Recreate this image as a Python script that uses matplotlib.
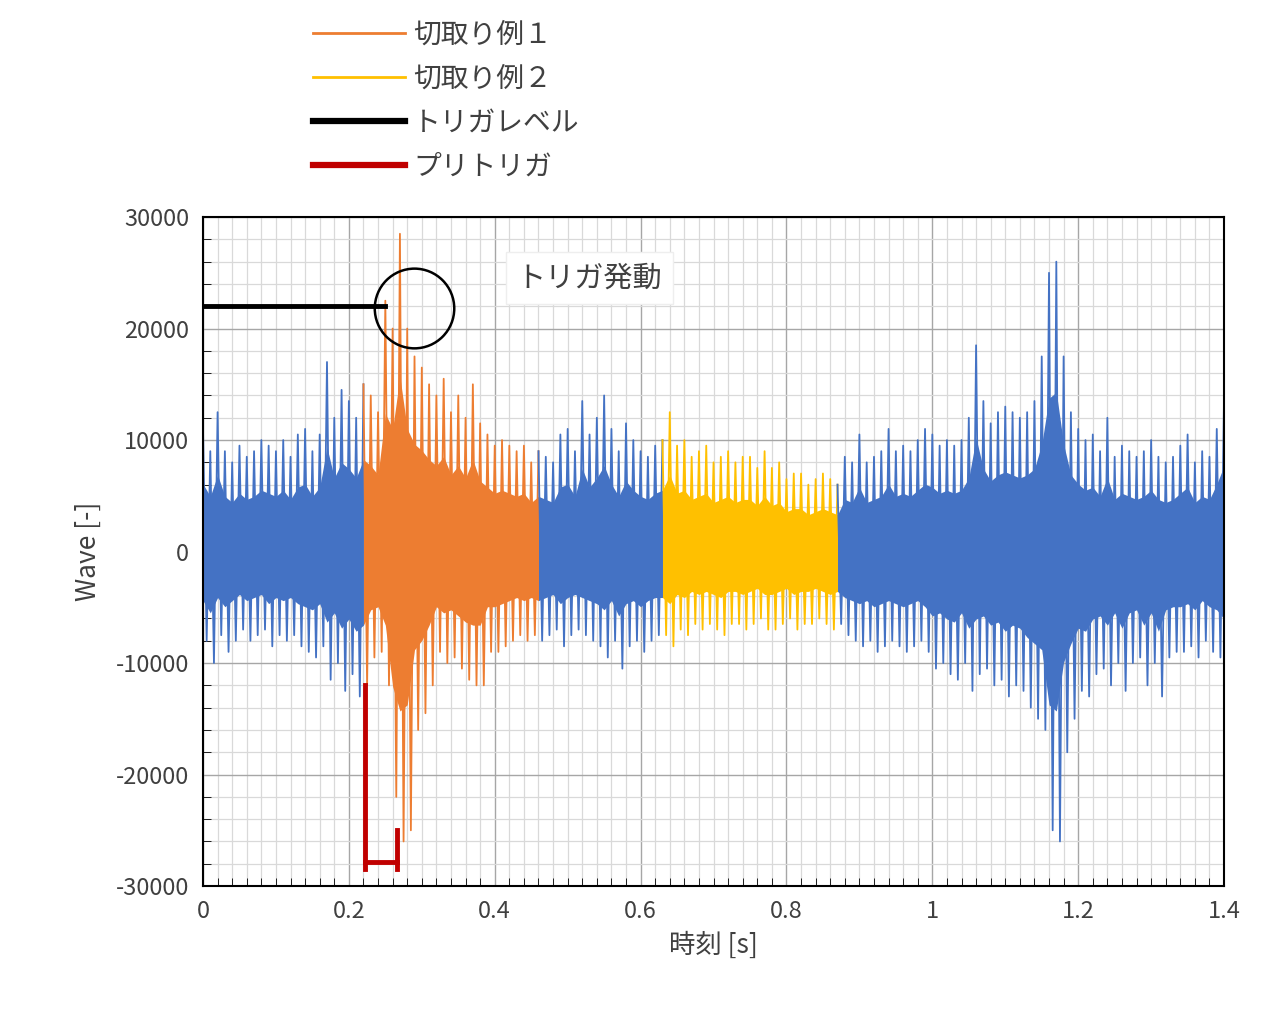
import matplotlib
matplotlib.use("Agg")
import matplotlib.pyplot as plt
from matplotlib.patches import Ellipse
import numpy as np

plt.rcParams['font.family'] = ['Noto Sans CJK JP', 'DejaVu Sans']
plt.rcParams['axes.unicode_minus'] = False

# envelope of the waveform, every 0.01 s
times = [i / 100 for i in range(141)]
upper = [11000, 9000, 12500, 9000, 8000, 9500, 8500, 9000, 10000, 9500, 9000, 10000, 8500, 10500, 11000, 9000, 10500, 17000, 12000, 14500, 13500, 12000,
         15000, 14000, 12500, 22500, 20000, 28500, 20000, 17500, 16500, 15000, 14000, 15500, 12500, 14000, 12000, 15000, 11500, 10500, 9500, 10000, 9500, 9000, 9500, 8000,
         9000, 8500, 8000, 10500, 11000, 9000, 13500, 10500, 12000, 14000, 11000, 9000, 11500, 10000, 9000, 8500, 9500,
         10000, 12500, 9500, 10000, 8500, 9000, 9500, 8000, 8500, 9000, 8000, 8500, 8500, 7500, 9000, 7500, 8000, 6500, 7000, 7000, 6000, 6500, 7000, 6500,
         6000, 8500, 8000, 10500, 8000, 8500, 9000, 11000, 9000, 9500, 9000, 10000, 11000, 10500, 9500, 10000, 9500, 10000, 12000, 18500, 13500, 11500, 12500, 13000,
         12500, 12000, 12500, 13500, 17500, 25000, 26000, 17500, 12500, 11000, 10000, 10500, 9000, 12000, 8500, 9500, 9000, 8500, 9000, 10000, 8500, 8000, 8500,
         9500, 10500, 8000, 9000, 8500, 11000, 14000]
lower = [-8000, -10000, -7500, -9000, -8000, -7000, -8000, -7500, -7000, -8500, -7500, -8000, -7500, -8500, -9000, -9500, -8500, -11500, -10000, -12500, -11000, -13000,
         -12000, -9500, -9000, -12000, -22000, -26000, -25000, -16000, -14500, -12000, -9000, -10000, -9500, -10500, -11500, -12000, -12000, -9000, -9000, -8500, -8000, -7500, -8000, -7500,
         -8000, -7500, -7000, -8500, -7500, -7000, -7500, -8000, -8500, -9500, -8000, -10500, -8500, -8000, -9000, -8000, -7500,
         -7500, -8500, -7000, -7500, -6500, -7000, -6500, -7000, -7500, -6500, -6500, -7000, -6500, -6000, -7000, -7000, -6500, -6000, -7000, -6500, -6500, -6000, -6500, -7000,
         -6500, -7500, -8000, -8500, -8000, -9000, -8500, -8000, -8500, -9000, -8500, -8000, -9000, -10500, -10000, -11000, -11500, -10000, -12500, -11000, -10500, -12000,
         -11500, -13000, -12000, -12500, -14000, -15000, -16000, -25000, -26000, -18000, -15000, -12500, -13000, -11000, -10500, -12000, -10000, -12500, -10000, -9500,
         -12000, -10000, -13000, -9500, -9000, -9000, -8500, -9500, -8000, -9000, -9500, -11000]

# segments: (start index, end index, colour)
segments = [(0, 22, '#4472C4'), (22, 46, '#ED7D31'), (46, 63, '#4472C4'),
            (63, 87, '#FFC000'), (87, 140, '#4472C4')]

fig = plt.figure(figsize=(12.8, 10.11), dpi=100)
ax = fig.add_axes([0.1586, 0.1236, 0.7977, 0.6617])

for s, e, c in segments:
    t = np.array(times[s:e + 1])
    hi = np.array(upper[s:e + 1])
    lo = np.array(lower[s:e + 1])
    ax.fill_between(t, lo * 0.55, hi * 0.55, color=c, lw=0, zorder=2)
    tz = np.empty(2 * len(t) - 1)
    yz = np.empty(2 * len(t) - 1)
    tz[0::2] = t
    yz[0::2] = hi
    tz[1::2] = t[:-1] + 0.005
    yz[1::2] = lo[:-1]
    ax.plot(tz, yz, color=c, lw=1.3, zorder=2)

# trigger level and pre-trigger marks
ax.plot([0, 0.25], [22000, 22000], color='black', lw=3.5, zorder=3)
ax.plot([0.222, 0.222], [-12000, -28500], color='#C00000', lw=3.5, zorder=3)
ax.plot([0.266, 0.266], [-25000, -28500], color='#C00000', lw=3.5, zorder=3)
ax.plot([0.222, 0.266], [-27800, -27800], color='#C00000', lw=3.5, zorder=3)

ax.set_xlim(0, 1.4)
ax.set_ylim(-30000, 30000)
ax.set_xticks(np.arange(0, 1.41, 0.2))
ax.set_xticklabels(['0', '0.2', '0.4', '0.6', '0.8', '1', '1.2', '1.4'])
ax.set_xticks(np.arange(0, 1.401, 0.02), minor=True)
ax.set_yticks(np.arange(-30000, 30001, 10000))
ax.set_yticks(np.arange(-30000, 30001, 2000), minor=True)
ax.grid(which='major', color='#A6A6A6', lw=1.0, zorder=0)
ax.grid(which='minor', color='#D9D9D9', lw=0.9, zorder=0)
ax.set_axisbelow(True)
ax.tick_params(which='both', direction='in', labelsize=17, labelcolor='#404040', pad=10)
ax.tick_params(which='major', length=0)
ax.tick_params(which='minor', length=6)
for sp in ax.spines.values():
    sp.set_color('black')
    sp.set_linewidth(1.5)
ax.set_xlabel('時刻 [s]', fontsize=19, color='#404040', labelpad=6)
ax.set_ylabel('Wave [-]', fontsize=19, color='#404040', labelpad=10)

ax.add_patch(Ellipse((0.29, 21800), 0.109, 7150, fill=False, lw=1.8, color='black', zorder=4))
ax.text(0.53, 24500, 'トリガ発動', fontsize=21, color='#404040', ha='center', va='center',
        bbox=dict(facecolor='white', edgecolor='#EEEEEE', pad=8), zorder=5)

h = [plt.Line2D([], [], color='#ED7D31', lw=2),
     plt.Line2D([], [], color='#FFC000', lw=2),
     plt.Line2D([], [], color='black', lw=4.5),
     plt.Line2D([], [], color='#C00000', lw=4.5)]
fig.legend(h, ['切取り例１', '切取り例２', 'トリガレベル', 'プリトリガ'],
           loc='upper left', bbox_to_anchor=(0.225, 1.005), frameon=False,
           fontsize=20, handlelength=3.3, labelspacing=0.5, handletextpad=0.3,
           labelcolor='#404040')

fig.savefig('out.png', dpi=100)
